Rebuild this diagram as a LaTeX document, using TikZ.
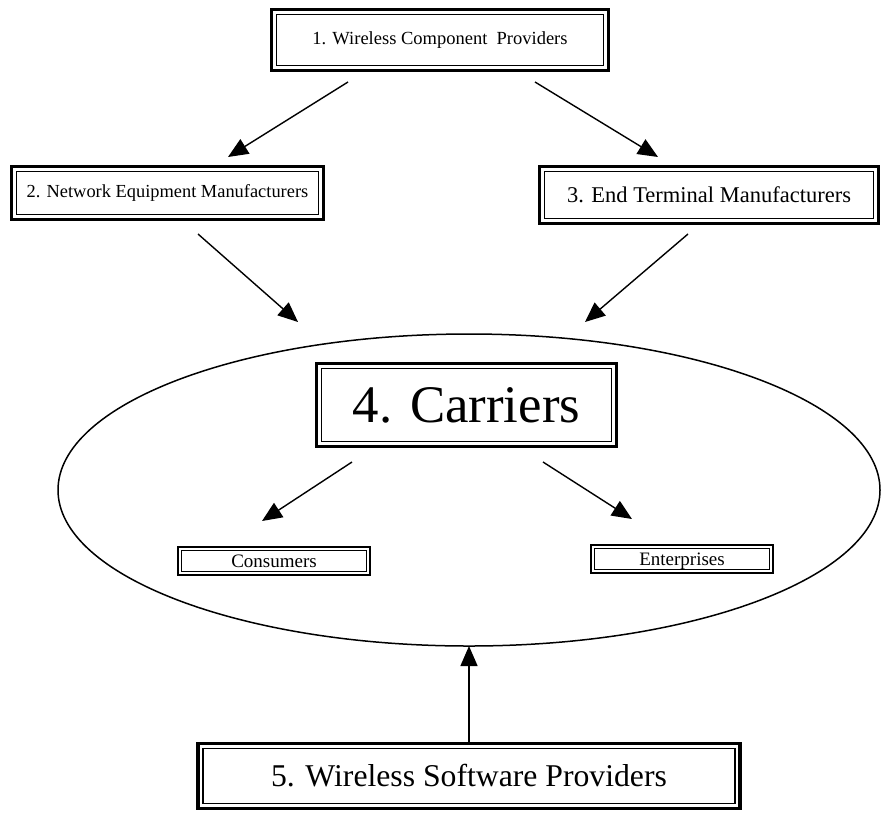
\documentclass[tikz,border=0pt]{standalone}
\usepackage{fontspec}
\setmainfont{Liberation Serif}
\usetikzlibrary{arrows.meta,calc,shapes.geometric}
\begin{document}
\begin{tikzpicture}[x=1pt,y=-1pt,
  box/.style={draw, line width=3.2pt, inner sep=0pt, outer sep=0pt, align=center},
  inbox/.style={draw, line width=1.5pt},
  sbox/.style={draw, line width=1.6pt, inner sep=0pt, outer sep=0pt, align=center, text height=15pt, text depth=3pt},
  sinbox/.style={draw, line width=1pt},
  arr/.style={line width=1.4pt, -{Triangle[length=20pt,width=17pt]}}]
\useasboundingbox (0,0) rectangle (882,812);

% ellipse
\node[draw, ellipse, line width=1.5pt, minimum width=822pt, minimum height=312pt, inner sep=0pt, outer sep=0pt] (ell) at (469,490) {};

% boxes
\node[box, minimum width=337pt, minimum height=61pt, font=\fontsize{18.5}{22}\selectfont] (b1) at (440,40) {1. Wireless Component\ \ Providers};
\node[box, minimum width=312pt, minimum height=53pt, font=\fontsize{18.4}{22}\selectfont] (b2) at (167.5,193) {2. Network Equipment Manufacturers};
\node[box, minimum width=339pt, minimum height=57pt, font=\fontsize{22.5}{26}\selectfont] (b3) at (709,195) {3. End Terminal Manufacturers};
\node[box, minimum width=300pt, minimum height=83pt, font=\fontsize{52.8}{60}\selectfont] (b4) at (466.5,405) {4. Carriers};
\node[box, minimum width=542pt, minimum height=65pt, font=\fontsize{31.7}{36}\selectfont] (b5) at (469,776) {5. Wireless Software Providers};
\node[sbox, minimum width=192pt, minimum height=28pt, font=\fontsize{19}{23}\selectfont] (b6) at (274,561) {Consumers};
\node[sbox, minimum width=182pt, minimum height=28pt, font=\fontsize{19}{23}\selectfont] (b7) at (682,559) {Enterprises};

\foreach \n in {b1,b2,b3,b4,b5}
  \draw[inbox] ($(\n.south west)+(4.8pt,4.8pt)$) rectangle ($(\n.north east)+(-4.8pt,-4.8pt)$);
\foreach \n in {b6,b7}
  \draw[sinbox] ($(\n.south west)+(3.5pt,3.5pt)$) rectangle ($(\n.north east)+(-3.5pt,-3.5pt)$);

% arrow end points
\coordinate (s12) at (348,82);  \coordinate (t12) at (228,157);
\coordinate (s13) at (535,82);  \coordinate (t13) at (658,157);
\coordinate (s24) at (198,234); \coordinate (t24) at (298,322);
\coordinate (s34) at (688,234); \coordinate (t34) at (585,322);
\coordinate (s46) at (352,462); \coordinate (t46) at (262,521);
\coordinate (s47) at (543,462); \coordinate (t47) at (632,519);

\draw[arr] (s12) -- (t12);
\draw[arr] (s13) -- (t13);
\draw[arr] (s24) -- (t24);
\draw[arr] (s34) -- (t34);
\draw[arr] (s46) -- (t46);
\draw[arr] (s47) -- (t47);
\draw[arr] (b5.north) -- (ell.south);
\end{tikzpicture}
\end{document}
